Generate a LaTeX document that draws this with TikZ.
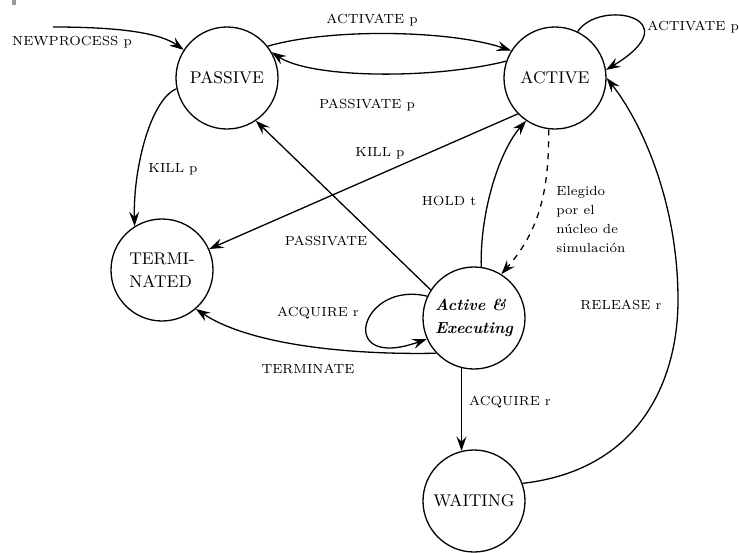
\documentclass[tikz,border=0pt]{standalone}
\usetikzlibrary{arrows.meta}
\begin{document}
\begin{tikzpicture}[x=0.5pt,y=-0.5pt,
  state/.style={draw,circle,line width=0.65pt,minimum size=51pt,inner sep=0pt,
    font=\fontsize{8.5}{11.5}\selectfont,align=left},
  lbl/.style={font=\fontsize{6.6}{9.5}\selectfont,inner sep=0pt},
  edge/.style={line width=0.65pt,-{Stealth[length=7.2pt,width=5pt,inset=2.6pt]}}]
\useasboundingbox (0,0) rectangle (739,552);
\fill[gray!80] (12,0) rectangle (16,5);

\node[state] (pas) at (227,78) {PASSIVE};
\node[state] (act) at (555,78) {ACTIVE};
\node[state] (ter) at (162,270) {TERMI-\\NATED};
\node[state] (aex) at (474,318) {\fontsize{8}{11.5}\selectfont\bfseries\itshape Active \&\\\fontsize{8}{11.5}\selectfont\bfseries\itshape Executing};
\node[state] (wai) at (474,501) {WAITING};

\coordinate (np) at (53,27);

% NEWPROCESS
\draw[edge] (np) .. controls (120,27) and (160,33) .. (pas.147);
\node[lbl] (lnp) at (72,42) {NEWPROCESS p};

% ACTIVATE p (passive -> active)
\draw[edge] (pas.38) .. controls (330,28) and (450,30) .. (act.148);
\node[lbl] (la1) at (372,20) {ACTIVATE p};

% PASSIVATE p (active -> passive)
\draw[edge] (act.161) .. controls (430,80) and (310,78) .. (pas.30);
\node[lbl] (lp1) at (367,105) {PASSIVATE p};

% ACTIVE self loop
\draw[edge] (act.64) .. controls (600,-2) and (692,18) .. (act.9);
\node[lbl,anchor=west] (la2) at (647,27) {ACTIVATE p};

% KILL p (passive -> terminated)
\draw[edge] (pas.192) .. controls (150,100) and (133,170) .. (ter.122);
\node[lbl] (lk1) at (173,169) {KILL p};

% KILL p (active -> terminated)
\draw[edge] (act.224) -- (ter.24);
\node[lbl] (lk2) at (380,153) {KILL p};

% PASSIVATE (aex -> passive)
\draw[edge] (aex.147) -- (pas.304);
\node[lbl] (lp2) at (326,241) {PASSIVATE};

% HOLD t
\draw[edge] (aex.82) .. controls (480,210) and (500,150) .. (act.236);
\node[lbl] (lh) at (449,201) {HOLD t};

% Elegido (dashed)
\draw[edge,dashed] (act.263) .. controls (549,190) and (540,230) .. (aex.58);
\node[lbl,anchor=west,align=left] (le) at (556,219.5) {Elegido\\por el\\núcleo de\\simulación};

% ACQUIRE r loop
\draw[edge] (aex.155) .. controls (360,280) and (335,372) .. (aex.204);
\node[lbl] (lq1) at (318,313) {ACQUIRE r};

% TERMINATE
\draw[edge] (aex.223) .. controls (350,355) and (250,345) .. (ter.311);
\node[lbl] (lt) at (308,369) {TERMINATE};

% ACQUIRE r (aex -> waiting)
\draw[edge] (aex.256) -- (wai.104);
\node[lbl] (lq2) at (510,402) {ACQUIRE r};

% RELEASE r
\draw[edge] (wai.20) .. controls (640,470) and (678,380) .. (678,300)
  .. controls (678,200) and (640,120) .. (act.0);
\node[lbl] (lr) at (621,305) {RELEASE r};
\end{tikzpicture}
\end{document}
